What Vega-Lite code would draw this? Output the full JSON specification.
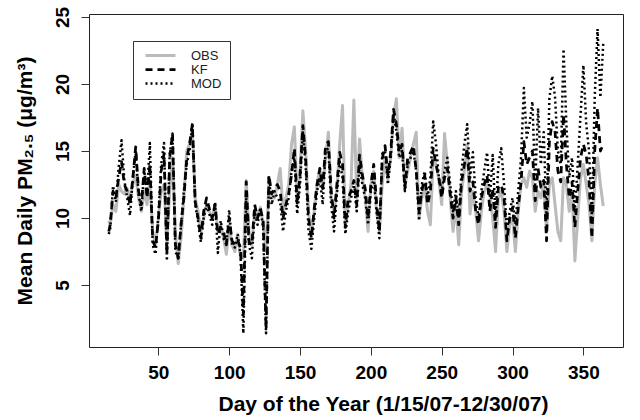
{
"$schema":"https://vega.github.io/schema/vega-lite/v6.json",
"width":534,"height":333,
"autosize":"none",
"padding":{"left":89,"top":14,"right":17,"bottom":73},
"background":"white",
"config":{"view":{"stroke":"#222","strokeWidth":1},"font":"Liberation Sans"},
"data":{"values":[
{"day":15,"OBS":9.8,"KF":9.0,"MOD":8.8},
{"day":16,"OBS":9.5,"KF":9.5,"MOD":9.2},
{"day":18,"OBS":11.0,"KF":12.0,"MOD":12.4},
{"day":20,"OBS":10.5,"KF":11.5,"MOD":11.2},
{"day":22,"OBS":12.5,"KF":13.0,"MOD":13.8},
{"day":24,"OBS":12.0,"KF":14.2,"MOD":15.8},
{"day":26,"OBS":11.8,"KF":12.5,"MOD":12.8},
{"day":28,"OBS":12.2,"KF":12.0,"MOD":11.5},
{"day":30,"OBS":11.5,"KF":11.0,"MOD":10.2},
{"day":32,"OBS":12.5,"KF":13.0,"MOD":13.0},
{"day":34,"OBS":13.2,"KF":15.3,"MOD":15.0},
{"day":36,"OBS":11.5,"KF":12.0,"MOD":11.8},
{"day":38,"OBS":10.5,"KF":11.0,"MOD":10.5},
{"day":40,"OBS":12.0,"KF":13.7,"MOD":13.5},
{"day":42,"OBS":11.0,"KF":11.5,"MOD":11.8},
{"day":44,"OBS":12.8,"KF":14.0,"MOD":15.6},
{"day":46,"OBS":9.0,"KF":8.3,"MOD":8.0},
{"day":48,"OBS":8.0,"KF":7.8,"MOD":7.3},
{"day":50,"OBS":10.0,"KF":9.8,"MOD":10.2},
{"day":52,"OBS":12.0,"KF":13.5,"MOD":14.0},
{"day":54,"OBS":12.5,"KF":14.8,"MOD":15.6},
{"day":56,"OBS":8.0,"KF":7.3,"MOD":6.8},
{"day":58,"OBS":12.0,"KF":14.5,"MOD":14.8},
{"day":60,"OBS":14.5,"KF":16.3,"MOD":16.3},
{"day":62,"OBS":9.0,"KF":8.0,"MOD":7.5},
{"day":64,"OBS":6.6,"KF":7.0,"MOD":7.0},
{"day":66,"OBS":8.5,"KF":9.5,"MOD":9.5},
{"day":68,"OBS":11.5,"KF":11.5,"MOD":12.0},
{"day":70,"OBS":15.0,"KF":14.4,"MOD":14.0},
{"day":72,"OBS":15.5,"KF":15.5,"MOD":15.0},
{"day":74,"OBS":16.5,"KF":17.0,"MOD":17.1},
{"day":76,"OBS":11.5,"KF":11.2,"MOD":11.0},
{"day":78,"OBS":10.5,"KF":10.0,"MOD":9.8},
{"day":80,"OBS":9.0,"KF":8.5,"MOD":8.2},
{"day":82,"OBS":10.0,"KF":10.5,"MOD":10.0},
{"day":84,"OBS":11.0,"KF":11.5,"MOD":11.0},
{"day":86,"OBS":10.5,"KF":10.7,"MOD":10.3},
{"day":88,"OBS":10.0,"KF":10.0,"MOD":9.5},
{"day":90,"OBS":11.0,"KF":11.0,"MOD":11.2},
{"day":92,"OBS":9.0,"KF":8.8,"MOD":7.4},
{"day":94,"OBS":9.5,"KF":9.3,"MOD":9.8},
{"day":96,"OBS":8.5,"KF":9.0,"MOD":8.5},
{"day":98,"OBS":7.3,"KF":8.0,"MOD":8.0},
{"day":100,"OBS":9.5,"KF":10.0,"MOD":10.6},
{"day":102,"OBS":8.0,"KF":8.3,"MOD":8.0},
{"day":104,"OBS":7.5,"KF":8.0,"MOD":7.8},
{"day":106,"OBS":8.8,"KF":8.3,"MOD":8.8},
{"day":108,"OBS":7.0,"KF":7.8,"MOD":7.2},
{"day":110,"OBS":7.0,"KF":2.8,"MOD":1.4},
{"day":112,"OBS":12.8,"KF":12.7,"MOD":11.5},
{"day":114,"OBS":9.0,"KF":8.2,"MOD":8.0},
{"day":116,"OBS":8.0,"KF":8.0,"MOD":7.0},
{"day":118,"OBS":10.5,"KF":11.0,"MOD":10.5},
{"day":120,"OBS":10.0,"KF":10.0,"MOD":9.5},
{"day":122,"OBS":10.8,"KF":10.7,"MOD":10.8},
{"day":124,"OBS":9.5,"KF":9.8,"MOD":9.2},
{"day":126,"OBS":7.5,"KF":1.8,"MOD":1.4},
{"day":128,"OBS":12.5,"KF":13.2,"MOD":13.0},
{"day":130,"OBS":11.5,"KF":11.8,"MOD":11.0},
{"day":132,"OBS":11.5,"KF":12.2,"MOD":12.0},
{"day":134,"OBS":12.5,"KF":12.5,"MOD":11.5},
{"day":136,"OBS":13.7,"KF":12.0,"MOD":11.2},
{"day":138,"OBS":10.5,"KF":10.0,"MOD":9.0},
{"day":140,"OBS":11.5,"KF":11.0,"MOD":10.5},
{"day":142,"OBS":12.5,"KF":11.8,"MOD":11.5},
{"day":144,"OBS":15.5,"KF":13.2,"MOD":13.5},
{"day":146,"OBS":16.8,"KF":15.2,"MOD":14.5},
{"day":148,"OBS":11.5,"KF":11.0,"MOD":10.3},
{"day":150,"OBS":13.5,"KF":13.2,"MOD":12.5},
{"day":152,"OBS":18.0,"KF":16.9,"MOD":16.5},
{"day":154,"OBS":15.0,"KF":14.4,"MOD":13.8},
{"day":156,"OBS":10.5,"KF":10.0,"MOD":9.0},
{"day":158,"OBS":8.8,"KF":8.5,"MOD":7.7},
{"day":160,"OBS":10.5,"KF":10.7,"MOD":10.0},
{"day":162,"OBS":12.5,"KF":12.5,"MOD":12.0},
{"day":164,"OBS":13.7,"KF":13.7,"MOD":13.0},
{"day":166,"OBS":12.2,"KF":12.2,"MOD":11.0},
{"day":168,"OBS":14.5,"KF":15.4,"MOD":15.0},
{"day":170,"OBS":16.4,"KF":15.7,"MOD":15.2},
{"day":172,"OBS":11.5,"KF":12.0,"MOD":11.0},
{"day":174,"OBS":10.5,"KF":10.0,"MOD":9.0},
{"day":176,"OBS":12.0,"KF":12.5,"MOD":11.8},
{"day":178,"OBS":15.5,"KF":14.9,"MOD":14.2},
{"day":180,"OBS":18.4,"KF":14.0,"MOD":13.0},
{"day":182,"OBS":9.5,"KF":9.3,"MOD":8.8},
{"day":184,"OBS":11.0,"KF":11.5,"MOD":10.5},
{"day":186,"OBS":12.5,"KF":12.0,"MOD":11.5},
{"day":188,"OBS":18.8,"KF":12.8,"MOD":12.5},
{"day":190,"OBS":11.5,"KF":11.0,"MOD":10.5},
{"day":192,"OBS":15.9,"KF":14.7,"MOD":14.0},
{"day":194,"OBS":13.0,"KF":13.2,"MOD":12.5},
{"day":196,"OBS":11.5,"KF":12.2,"MOD":11.5},
{"day":198,"OBS":9.0,"KF":10.0,"MOD":9.5},
{"day":200,"OBS":12.5,"KF":12.5,"MOD":12.0},
{"day":202,"OBS":13.5,"KF":14.0,"MOD":13.0},
{"day":204,"OBS":10.5,"KF":11.2,"MOD":10.5},
{"day":206,"OBS":9.0,"KF":9.0,"MOD":8.5},
{"day":208,"OBS":12.5,"KF":14.4,"MOD":14.8},
{"day":210,"OBS":14.5,"KF":15.4,"MOD":15.0},
{"day":212,"OBS":12.8,"KF":13.2,"MOD":12.5},
{"day":214,"OBS":14.5,"KF":14.9,"MOD":14.5},
{"day":216,"OBS":17.5,"KF":18.1,"MOD":17.8},
{"day":218,"OBS":18.9,"KF":17.0,"MOD":16.5},
{"day":220,"OBS":14.5,"KF":14.9,"MOD":14.5},
{"day":222,"OBS":16.7,"KF":15.5,"MOD":15.0},
{"day":224,"OBS":12.5,"KF":12.2,"MOD":12.0},
{"day":226,"OBS":13.5,"KF":14.5,"MOD":14.0},
{"day":228,"OBS":14.5,"KF":14.9,"MOD":14.5},
{"day":230,"OBS":15.5,"KF":15.4,"MOD":15.0},
{"day":232,"OBS":16.4,"KF":13.5,"MOD":13.5},
{"day":234,"OBS":10.0,"KF":10.5,"MOD":9.8},
{"day":236,"OBS":11.5,"KF":12.0,"MOD":12.5},
{"day":238,"OBS":12.5,"KF":13.2,"MOD":13.5},
{"day":240,"OBS":10.5,"KF":11.0,"MOD":11.5},
{"day":242,"OBS":9.5,"KF":12.0,"MOD":13.0},
{"day":244,"OBS":14.5,"KF":15.2,"MOD":17.2},
{"day":246,"OBS":14.0,"KF":14.0,"MOD":15.5},
{"day":248,"OBS":12.8,"KF":13.0,"MOD":13.0},
{"day":250,"OBS":11.0,"KF":11.5,"MOD":12.0},
{"day":252,"OBS":16.3,"KF":13.0,"MOD":13.5},
{"day":254,"OBS":14.0,"KF":13.7,"MOD":14.5},
{"day":256,"OBS":11.5,"KF":11.8,"MOD":12.5},
{"day":258,"OBS":9.0,"KF":10.0,"MOD":10.5},
{"day":260,"OBS":11.0,"KF":11.5,"MOD":12.0},
{"day":262,"OBS":8.0,"KF":9.5,"MOD":10.0},
{"day":264,"OBS":12.0,"KF":12.7,"MOD":13.5},
{"day":266,"OBS":13.5,"KF":14.0,"MOD":15.5},
{"day":268,"OBS":15.5,"KF":15.2,"MOD":17.0},
{"day":270,"OBS":10.3,"KF":12.0,"MOD":13.0},
{"day":272,"OBS":12.0,"KF":12.7,"MOD":14.9},
{"day":274,"OBS":10.5,"KF":10.5,"MOD":11.5},
{"day":276,"OBS":8.3,"KF":9.5,"MOD":10.0},
{"day":278,"OBS":10.5,"KF":11.5,"MOD":12.0},
{"day":280,"OBS":12.0,"KF":12.5,"MOD":13.5},
{"day":282,"OBS":12.5,"KF":13.2,"MOD":14.9},
{"day":284,"OBS":11.8,"KF":10.5,"MOD":11.5},
{"day":286,"OBS":10.0,"KF":12.2,"MOD":14.7},
{"day":288,"OBS":7.5,"KF":9.3,"MOD":10.0},
{"day":290,"OBS":11.5,"KF":12.3,"MOD":14.0},
{"day":292,"OBS":12.0,"KF":12.5,"MOD":15.2},
{"day":294,"OBS":10.5,"KF":11.5,"MOD":12.5},
{"day":296,"OBS":7.5,"KF":8.3,"MOD":9.0},
{"day":298,"OBS":9.5,"KF":10.0,"MOD":10.5},
{"day":300,"OBS":10.0,"KF":10.8,"MOD":11.5},
{"day":302,"OBS":7.5,"KF":8.5,"MOD":9.5},
{"day":304,"OBS":10.5,"KF":10.8,"MOD":12.0},
{"day":306,"OBS":12.5,"KF":12.7,"MOD":14.5},
{"day":308,"OBS":13.0,"KF":15.7,"MOD":19.7},
{"day":310,"OBS":12.3,"KF":14.0,"MOD":16.0},
{"day":312,"OBS":13.5,"KF":14.5,"MOD":17.0},
{"day":314,"OBS":13.0,"KF":15.0,"MOD":18.7},
{"day":316,"OBS":10.5,"KF":11.3,"MOD":12.5},
{"day":318,"OBS":12.0,"KF":13.7,"MOD":18.2},
{"day":320,"OBS":11.5,"KF":12.3,"MOD":14.0},
{"day":322,"OBS":12.5,"KF":12.8,"MOD":16.4},
{"day":324,"OBS":9.0,"KF":8.3,"MOD":10.0},
{"day":326,"OBS":12.5,"KF":15.7,"MOD":18.9},
{"day":328,"OBS":13.0,"KF":17.2,"MOD":20.6},
{"day":330,"OBS":11.0,"KF":16.4,"MOD":19.0},
{"day":332,"OBS":9.0,"KF":13.5,"MOD":15.0},
{"day":334,"OBS":8.3,"KF":12.7,"MOD":14.0},
{"day":336,"OBS":13.0,"KF":17.7,"MOD":22.6},
{"day":338,"OBS":12.5,"KF":14.0,"MOD":17.0},
{"day":340,"OBS":10.5,"KF":11.5,"MOD":13.0},
{"day":342,"OBS":12.0,"KF":12.7,"MOD":14.5},
{"day":344,"OBS":6.8,"KF":9.3,"MOD":10.5},
{"day":346,"OBS":10.0,"KF":12.0,"MOD":14.0},
{"day":348,"OBS":13.0,"KF":14.5,"MOD":17.7},
{"day":350,"OBS":14.0,"KF":15.5,"MOD":21.4},
{"day":352,"OBS":12.5,"KF":14.7,"MOD":17.0},
{"day":354,"OBS":11.0,"KF":12.7,"MOD":15.0},
{"day":356,"OBS":8.3,"KF":8.5,"MOD":10.0},
{"day":358,"OBS":12.5,"KF":15.0,"MOD":19.0},
{"day":360,"OBS":14.5,"KF":18.2,"MOD":24.1},
{"day":362,"OBS":12.5,"KF":15.0,"MOD":19.0},
{"day":364,"OBS":10.9,"KF":15.5,"MOD":23.0}
]},
"transform":[{"fold":["OBS","KF","MOD"],"as":["series","value"]}],
"mark":{"type":"line","strokeCap":"butt","strokeJoin":"round"},
"encoding":{
"x":{"field":"day","type":"quantitative","scale":{"domain":[1.04,377.96],"nice":false,"zero":false},
"axis":{"values":[50,100,150,200,250,300,350],"domain":false,"grid":false,"tickSize":8,"tickColor":"#333","labelFont":"Liberation Sans","labelFontWeight":"bold","labelFontSize":19,"labelColor":"#000","labelPadding":8,"title":"Day of the Year (1/15/07-12/30/07)","titleFont":"Liberation Sans","titleFontWeight":"bold","titleFontSize":21,"titleColor":"#000","titlePadding":11,"titleX":294,"titleAnchor":"middle","titleAlign":"center"}},
"y":{"field":"value","type":"quantitative","scale":{"domain":[0.38,25.22],"nice":false,"zero":false},
"axis":{"values":[5,10,15,20,25],"domain":false,"grid":false,"tickSize":8,"tickColor":"#333","labelFont":"Liberation Sans","labelFontWeight":"bold","labelFontSize":19,"labelColor":"#000","labelAngle":270,"labelAlign":"center","labelBaseline":"bottom","labelPadding":9,"title":"Mean Daily PM₂.₅ (μg/m³)","titleFont":"Liberation Sans","titleFontWeight":"bold","titleFontSize":21,"titleColor":"#000","titlePadding":18}},
"color":{"field":"series","type":"nominal","scale":{"domain":["OBS","KF","MOD"],"range":["#bbbbbb","#000000","#000000"]},
"legend":{"orient":"none","legendX":44,"legendY":27,"title":null,"symbolType":"M-3,0L3,0","symbolSize":100,"symbolOffset":13,"strokeColor":"#333","padding":8,"labelFont":"Liberation Sans","labelFontSize":13,"labelColor":"#222","rowPadding":-3,"labelOffset":24}},
"strokeDash":{"field":"series","type":"nominal","scale":{"domain":["OBS","KF","MOD"],"range":[[1,0],[7,5],[2,3]]},"legend":null},
"strokeWidth":{"field":"series","type":"nominal","scale":{"domain":["OBS","KF","MOD"],"range":[3,2.5,1.6]},"legend":null}
}
}
